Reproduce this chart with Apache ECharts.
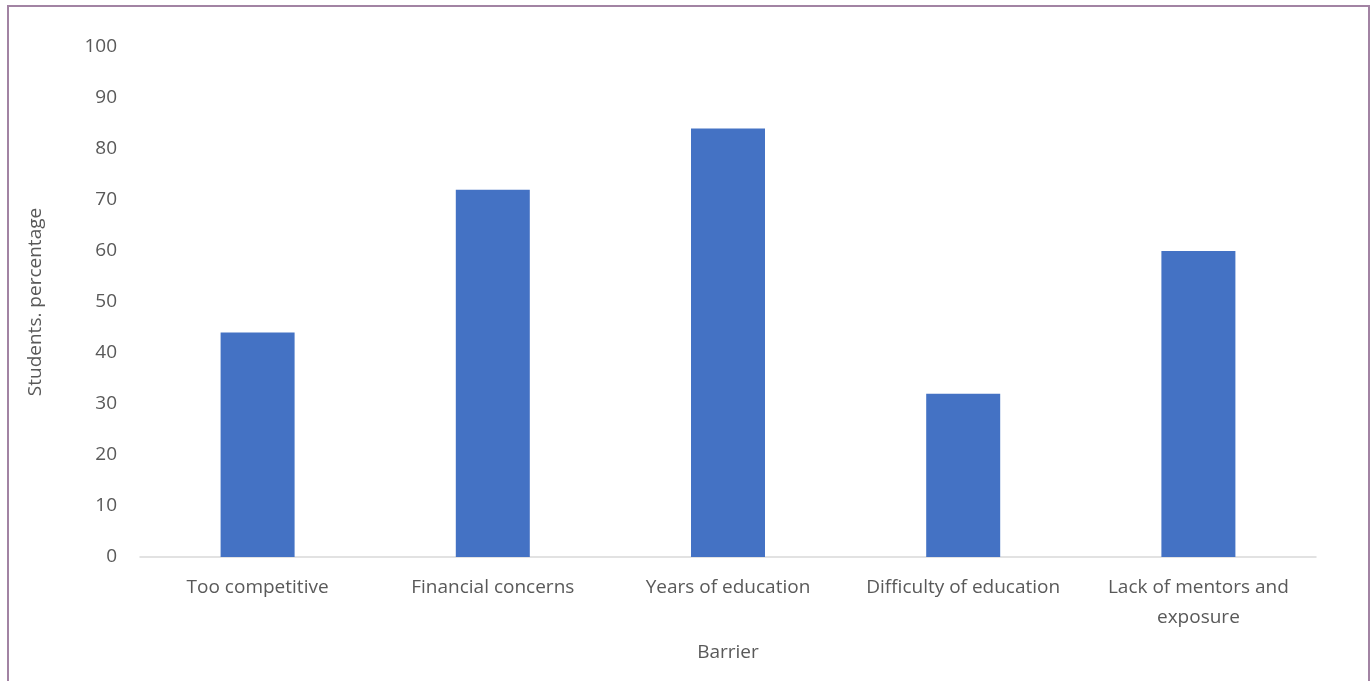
<!DOCTYPE html>
<html>
<head>
<meta charset="utf-8">
<script src="https://cdn.jsdelivr.net/npm/echarts@6/dist/echarts.min.js"></script>
<style>
  html, body { margin: 0; padding: 0; background: #fff; }
  #chart { width: 1371px; height: 681px; }
</style>
</head>
<body>
<div id="chart"></div>
<script>
const categories = ['Too competitive', 'Financial concerns', 'Years of education', 'Difficulty of education', 'Lack of mentors and\nexposure']
const percentages = [44, 72, 84, 32, 60]
const yTicks = { min: 0, max: 100, interval: 10 }

const labelFont = '"Open Sans", "Noto Sans", sans-serif'
const chart = echarts.init(document.getElementById('chart'))

chart.setOption({
  animation: false,
  textStyle: { fontFamily: labelFont },
  graphic: [{
    type: 'rect',
    shape: { x: 8, y: 6, width: 1361, height: 690 },
    style: { fill: 'none', stroke: '#a283a3', lineWidth: 2 }
  }],
  grid: { left: 140, right: 55, top: 47, bottom: 124 },
  xAxis: {
    type: 'category',
    data: categories,
    name: 'Barrier',
    nameLocation: 'middle',
    nameGap: 86,
    nameTextStyle: { color: '#595959', fontSize: 19 },
    axisLine: { lineStyle: { color: '#d9d9d9', width: 1.5 } },
    axisTick: { show: false },
    axisLabel: { color: '#595959', fontSize: 19, margin: 16, lineHeight: 30, interval: 0 }
  },
  yAxis: {
    type: 'value',
    min: yTicks.min,
    max: yTicks.max,
    interval: yTicks.interval,
    name: 'Students. percentage',
    nameLocation: 'middle',
    nameGap: 95,
    nameTextStyle: { color: '#595959', fontSize: 19 },
    splitLine: { show: false },
    axisLine: { show: false },
    axisTick: { show: false },
    axisLabel: { color: '#595959', fontSize: 19, margin: 23 }
  },
  series: [{
    type: 'bar',
    data: percentages,
    barWidth: 74,
    itemStyle: { color: '#4472c4' }
  }]
})
</script>
</body>
</html>
